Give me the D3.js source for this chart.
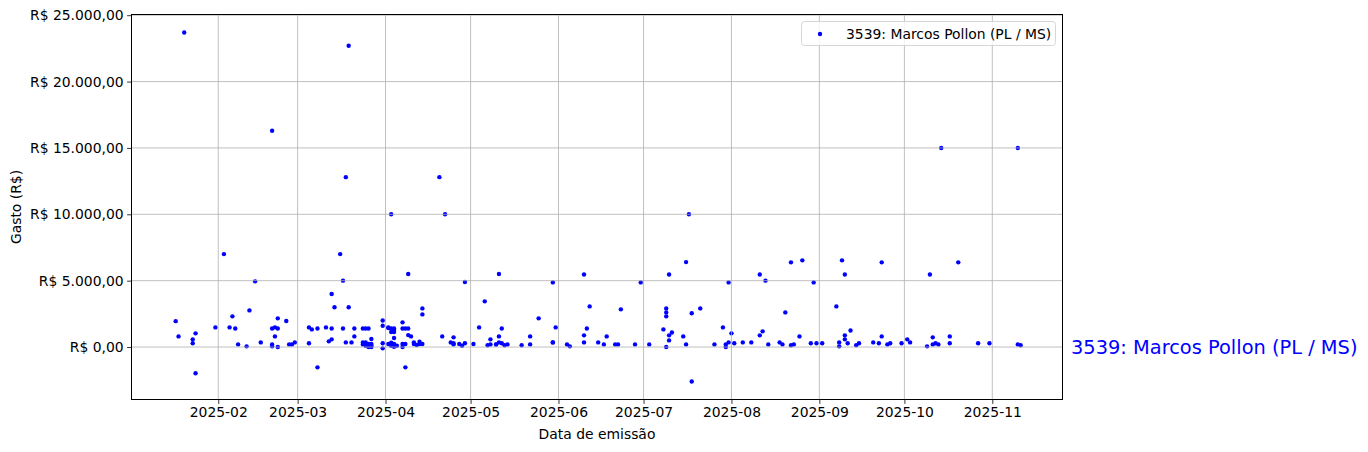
<!DOCTYPE html>
<html>
<head>
<meta charset="utf-8">
<script src="https://cdn.jsdelivr.net/npm/d3@7"></script>
<style>
  html, body { margin: 0; padding: 0; background: #fff; }
  svg { display: block; font-family: "DejaVu Sans", sans-serif; }
</style>
</head>
<body>
<svg id="chart" width="1368" height="452"></svg>
<script>
const seriesName = "3539: Marcos Pollon (PL / MS)";
const xLabel = "Data de emissão";
const yLabel = "Gasto (R$)";
const yTicks = [0, 5000, 10000, 15000, 20000, 25000];
const xTicks = ["2025-02-01","2025-03-01","2025-04-01","2025-05-01","2025-06-01","2025-07-01","2025-08-01","2025-09-01","2025-10-01","2025-11-01"];
const xLimits = ["2025-01-01T14:00","2025-11-25T14:00"];

const dates = [
  "2025-01-17","2025-01-18","2025-01-20","2025-01-23","2025-01-23","2025-01-24","2025-01-24","2025-01-31",
  "2025-02-03","2025-02-05","2025-02-06","2025-02-07","2025-02-08","2025-02-11","2025-02-12","2025-02-14",
  "2025-02-16","2025-02-20","2025-02-20","2025-02-20","2025-02-20","2025-02-21","2025-02-21","2025-02-22",
  "2025-02-22","2025-02-22","2025-02-25","2025-02-26","2025-02-27","2025-02-28",
  "2025-03-05","2025-03-05","2025-03-06","2025-03-08","2025-03-08","2025-03-11","2025-03-12","2025-03-13",
  "2025-03-13","2025-03-13","2025-03-14","2025-03-16","2025-03-17","2025-03-17","2025-03-18","2025-03-18",
  "2025-03-19","2025-03-19","2025-03-20","2025-03-21","2025-03-21",
  "2025-03-24","2025-03-25","2025-03-26",
  "2025-03-24","2025-03-24","2025-03-25","2025-03-25","2025-03-25","2025-03-26","2025-03-26","2025-03-27","2025-03-27","2025-03-27","2025-03-27",
  "2025-03-31","2025-03-31","2025-03-31","2025-03-31",
  "2025-04-02","2025-04-02","2025-04-03",
  "2025-04-03","2025-04-04","2025-04-04","2025-04-03","2025-04-04","2025-04-04",
  "2025-04-02","2025-04-03","2025-04-03","2025-04-03","2025-04-04","2025-04-04","2025-04-05",
  "2025-04-07","2025-04-07","2025-04-07","2025-04-07","2025-04-08","2025-04-08","2025-04-08","2025-04-09",
  "2025-04-09","2025-04-09","2025-04-10","2025-04-11","2025-04-11","2025-04-12","2025-04-13","2025-04-13",
  "2025-04-14","2025-04-14","2025-04-14","2025-04-20","2025-04-21","2025-04-22",
  "2025-04-24","2025-04-25","2025-04-25","2025-04-25","2025-04-27","2025-04-28","2025-04-29","2025-04-29",
  "2025-05-02","2025-05-04","2025-05-06","2025-05-07","2025-05-08","2025-05-08","2025-05-10","2025-05-10",
  "2025-05-11","2025-05-11","2025-05-11","2025-05-12","2025-05-12","2025-05-13","2025-05-14","2025-05-19",
  "2025-05-22","2025-05-22","2025-05-25","2025-05-30","2025-05-30","2025-05-30","2025-05-31",
  "2025-06-04","2025-06-05","2025-06-10","2025-06-10","2025-06-10","2025-06-11","2025-06-12","2025-06-15",
  "2025-06-17","2025-06-18","2025-06-21","2025-06-22","2025-06-23","2025-06-28","2025-06-30",
  "2025-07-03","2025-07-09","2025-07-09","2025-07-09","2025-07-08","2025-07-09","2025-07-10","2025-07-10",
  "2025-07-10","2025-07-11","2025-07-15","2025-07-16","2025-07-16","2025-07-17","2025-07-18","2025-07-18",
  "2025-07-21","2025-07-26","2025-07-29","2025-07-30","2025-07-30","2025-07-31","2025-07-31",
  "2025-08-01","2025-08-02","2025-08-05","2025-08-08","2025-08-11","2025-08-11","2025-08-12","2025-08-13",
  "2025-08-14","2025-08-18","2025-08-19","2025-08-20","2025-08-22","2025-08-22","2025-08-23","2025-08-25",
  "2025-08-26","2025-08-29","2025-08-30","2025-08-31",
  "2025-09-02","2025-09-07","2025-09-08","2025-09-08","2025-09-09","2025-09-10","2025-09-10","2025-09-10",
  "2025-09-11","2025-09-12","2025-09-14","2025-09-15","2025-09-20","2025-09-22","2025-09-23","2025-09-23",
  "2025-09-25","2025-09-26","2025-09-30",
  "2025-10-02","2025-10-03","2025-10-09","2025-10-10","2025-10-11","2025-10-11","2025-10-12","2025-10-13",
  "2025-10-14","2025-10-17","2025-10-17","2025-10-20","2025-10-27","2025-10-31",
  "2025-11-10","2025-11-10","2025-11-11"
];
const values = [
  1950,800,23700,580,280,1030,-1980,1480,
  7000,1480,2310,1400,200,50,2760,4950,
  350,50,1400,200,16300,1480,800,2160,
  1400,0,1960,200,200,350,
  280,1480,1330,1400,-1530,1480,430,580,
  4000,1400,3000,7000,1400,5000,350,12800,
  22700,3000,350,1400,800,
  1400,1400,1400,
  350,200,230,350,100,230,0,100,0,600,230,
  280,-100,2000,1600,
  1480,1430,10000,
  1400,1280,1130,1130,1400,680,
  230,320,100,230,20,230,100,
  1860,0,1400,230,1400,-1530,230,1400,
  5500,900,800,350,230,150,230,400,
  230,2910,2460,12800,800,10000,
  350,200,730,280,230,100,280,4900,
  230,1480,3440,130,580,200,200,200,
  5500,800,350,1400,280,130,200,130,
  800,200,2160,4870,350,350,1480,
  200,50,5470,880,350,1400,3060,350,
  200,800,200,200,2840,200,4870,
  200,2610,2310,2910,1330,0,5470,880,
  500,1100,800,6400,200,10000,-2600,2540,
  2910,200,1480,200,0,4870,350,
  1030,280,350,350,5470,880,1180,5000,
  200,350,200,2610,6380,130,200,800,
  6530,280,4870,280,
  280,3060,350,50,6530,5470,880,580,
  280,1250,130,280,350,280,6380,800,
  200,280,280,
  580,350,50,5470,730,200,280,200,
  15000,800,280,6380,280,280,
  15000,200,130
];

const parse = d3.utcParse("%Y-%m-%d");
const parseT = d3.utcParse("%Y-%m-%dT%H:%M");
const data = dates.map((d, i) => ({ date: parse(d), value: values[i] }));

const svg = d3.select("#chart");
const L = 132, R = 1062, T = 15, B = 399;

const x = d3.scaleUtc().domain(xLimits.map(parseT)).range([L, R]);
// matplotlib-like 5% margins on y
const yExt = d3.extent(data, d => d.value);
const yPad = (yExt[1] - yExt[0]) * 0.05;
const y = d3.scaleLinear().domain([yExt[0] - yPad, yExt[1] + yPad]).range([B, T]);

const fmtBR = v => {
  const s = Math.abs(v).toFixed(2).split(".");
  const intPart = s[0].replace(/\B(?=(\d{3})+(?!\d))/g, ".");
  return "R$ " + (v < 0 ? "-" : "") + intPart + "," + s[1];
};

const fs = 13.9;

// points
svg.append("g").selectAll("circle").data(data).join("circle")
  .attr("cx", d => x(d.date)).attr("cy", d => y(d.value))
  .attr("r", 2.2).attr("fill", "#0000ff");

// grid (drawn above the scatter, like matplotlib default)
const xt = xTicks.map(parse);
const grid = svg.append("g");
grid.selectAll("line.gx").data(xt).join("line")
  .attr("x1", d => x(d)).attr("x2", d => x(d)).attr("y1", T).attr("y2", B)
  .attr("stroke", "#b0b0b0").attr("stroke-width", 0.8);
grid.selectAll("line.gy").data(yTicks).join("line")
  .attr("x1", L).attr("x2", R).attr("y1", d => y(d)).attr("y2", d => y(d))
  .attr("stroke", "#b0b0b0").attr("stroke-width", 0.8);

// axes
const xAxis = d3.axisBottom(x).tickValues(xt).tickFormat(d3.utcFormat("%Y-%m")).tickSizeOuter(0).tickSize(4.9).tickPadding(3.5);
const gx = svg.append("g").attr("transform", `translate(0,${B})`).call(xAxis);
gx.select(".domain").remove();
gx.selectAll("text").attr("font-size", fs).attr("font-family", "DejaVu Sans").attr("fill", "#000");
gx.selectAll("line").attr("stroke", "#000").attr("stroke-width", 0.8);

const yAxis = d3.axisLeft(y).tickValues(yTicks).tickFormat(fmtBR).tickSizeOuter(0).tickSize(4.9).tickPadding(3.5);
const gy = svg.append("g").attr("transform", `translate(${L},0)`).call(yAxis);
gy.select(".domain").remove();
gy.selectAll("text").attr("font-size", fs).attr("font-family", "DejaVu Sans").attr("fill", "#000");
gy.selectAll("line").attr("stroke", "#000").attr("stroke-width", 0.8);

// frame (pixel aligned for crisp black spines)
svg.append("rect").attr("x", L - 0.5).attr("y", T - 0.5).attr("width", R - L + 1).attr("height", B - T + 1)
  .attr("fill", "none").attr("stroke", "#000").attr("stroke-width", 1).attr("shape-rendering", "crispEdges");

// labels
svg.append("text").attr("x", (L + R) / 2).attr("y", 439).attr("text-anchor", "middle")
  .attr("font-size", fs).text(xLabel);
svg.append("text").attr("transform", `translate(21,${(T + B) / 2}) rotate(-90)`).attr("text-anchor", "middle")
  .attr("font-size", fs).text(yLabel);

// right-side label
svg.append("text").attr("x", 1071).attr("y", y(0)).attr("dy", "0.36em")
  .attr("font-size", 19.4).attr("fill", "#0000ff").text(seriesName);

// legend
const lg = svg.append("g");
lg.append("rect").attr("x", 801.5).attr("y", 21.5).attr("width", 254).attr("height", 24).attr("rx", 3)
  .attr("fill", "#fff").attr("fill-opacity", 0.8).attr("stroke", "#cccccc").attr("stroke-width", 0.8);
lg.append("circle").attr("cx", 820).attr("cy", 34).attr("r", 2.2).attr("fill", "#0000ff");
lg.append("text").attr("x", 846).attr("y", 34).attr("dy", "0.36em").attr("font-size", fs).text(seriesName);
</script>
</body>
</html>
